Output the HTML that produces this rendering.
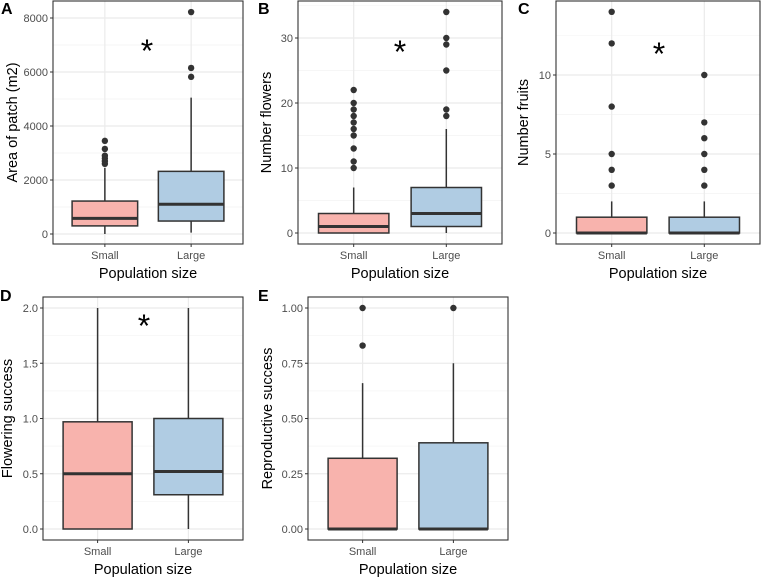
<!DOCTYPE html>
<html><head><meta charset="utf-8"><style>
body{margin:0;background:#fff;width:761px;height:577px;overflow:hidden}
svg{font-family:"Liberation Sans",sans-serif}
</style></head><body>
<svg id="c" width="761" height="577"></svg>
<script>
const categories=["Small","Large"];
// panel A: area of patch
const aStats=[[0,300,580,1220,2450],[50,480,1100,2320,5050]];
const aOut=[[2600,2700,2800,2900,3150,3450],[5820,6150,8220]];
const aTicks=[0,2000,4000,6000,8000];
// panel B: number flowers
const bStats=[[0,0,1,3,7],[0,1,3,7,16]];
const bOut=[[10,11,13,15,16,17,18,19,20,22],[18,19,25,29,30,34]];
const bTicks=[0,10,20,30];
// panel C: number fruits
const cStats=[[0,0,0,1,2],[0,0,0,1,2]];
const cOut=[[3,4,5,8,12,14],[3,4,5,6,7,10]];
const cTicks=[0,5,10];
// panel D: flowering success
const dStats=[[0,0,0.5,0.97,2],[0,0.31,0.52,1,2]];
const dOut=[[],[]];
const dTicks=[0,0.5,1,1.5,2];
const dLabels=["0.0","0.5","1.0","1.5","2.0"];
// panel E: reproductive success
const eStats=[[0,0,0,0.32,0.66],[0,0,0,0.39,0.75]];
const eOut=[[0.83,1],[1]];
const eTicks=[0,0.25,0.5,0.75,1];
const eLabels=["0.00","0.25","0.50","0.75","1.00"];

const NS="http://www.w3.org/2000/svg",svg=document.getElementById('c');
function el(t,a,p){const e=document.createElementNS(NS,t);for(const k in a)e.setAttribute(k,a[k]);(p||svg).appendChild(e);return e;}
const fills=["#F8B3AD","#B0CCE3"];
function panel(o){
  const g=el('g',{});
  
  
  const y=v=>o.y0+(v-o.t0)*(o.y1-o.y0)/(o.t1-o.t0);
  const L=o.left,R=o.left+o.w,T=o.top,B=o.bottom;
  el('rect',{x:L,y:T,width:o.w,height:B-T,fill:'#fff'},g);
  for(let i=0;i<o.ticks.length;i++){
    const step=o.ticks[1]-o.ticks[0];
    for(const m of [o.ticks[i]-step/2,o.ticks[i]+step/2]){
      const yy=y(m); if(yy>T&&yy<B) el('line',{x1:L,x2:R,y1:yy,y2:yy,stroke:'#f4f4f4','stroke-width':0.6},g);
    }
  }
  o.ticks.forEach((t,i)=>{const yy=y(t);
    const gl=el('line',{x1:L,x2:R,y1:yy,y2:yy,stroke:'#ebebeb','stroke-width':1.2},g);
    
    el('line',{x1:L-3,x2:L,y1:yy,y2:yy,stroke:'#333','stroke-width':1},g);
    const tx=el('text',{x:L-5,y:yy+4,'text-anchor':'end','font-size':11,fill:'#4d4d4d'},g);
    tx.textContent=o.labels?o.labels[i]:t;
    
    
  });
  const cx=[L+o.w*0.273,L+o.w*0.727],bw=o.w*0.345;
  cx.forEach(x=>el('line',{x1:x,x2:x,y1:T,y2:B,stroke:'#ebebeb','stroke-width':1.2},g));
  categories.forEach((c,i)=>{
    const s=o.stats[i],x=cx[i];
    const bg=el('g',{},g);
    
    
    el('line',{x1:x,x2:x,y1:y(s[0]),y2:y(s[4]),stroke:'#333','stroke-width':1.5},bg);
    el('rect',{x:x-bw/2,y:y(s[3]),width:bw,height:y(s[1])-y(s[3]),fill:fills[i],stroke:'#333','stroke-width':1.5},bg);
    el('line',{x1:x-bw/2,x2:x+bw/2,y1:y(s[2]),y2:y(s[2]),stroke:'#333','stroke-width':3},bg);
    o.out[i].forEach(v=>{const p=el('circle',{cx:x,cy:y(v),r:3.2,fill:'#333'},bg);
      });
    el('line',{x1:x,x2:x,y1:B,y2:B+3,stroke:'#333'},g);
    const t=el('text',{x:x,y:B+15,'text-anchor':'middle','font-size':11,fill:'#4d4d4d'},g);
    t.textContent=c;
    
  });
  el('rect',{x:L,y:T,width:o.w,height:B-T,fill:'none',stroke:'#333','stroke-width':1.1},g);
  const xt=el('text',{x:(L+R)/2,y:B+34,'text-anchor':'middle','font-size':14.5,fill:'#000'},g);
  xt.textContent='Population size';
  
  const ym=(T+B)/2;
  const yt=el('text',{x:o.ytx,y:ym,'text-anchor':'middle','font-size':14.5,fill:'#000',transform:`rotate(-90 ${o.ytx} ${ym})`},g);
  yt.textContent=o.ytitle;
  
  const pl=el('text',{x:o.lx,y:o.ly,'font-size':16,'font-weight':'bold',fill:'#000'},g);
  pl.textContent=o.id;
  
  if(o.star){const st=el('text',{x:o.star[0],y:o.star[1],'text-anchor':'middle','font-size':32,fill:'#000'},g);
    st.textContent='*';
    }
}
panel({id:'A',left:53,w:190,top:1,bottom:244,t0:0,t1:8000,y0:234,y1:18,ticks:aTicks,stats:aStats,out:aOut,ytitle:'Area of patch (m2)',ytx:17,lx:1,ly:14,star:[147,62]});
panel({id:'B',left:298,w:204,top:1,bottom:244,t0:0,t1:30,y0:233,y1:38,ticks:bTicks,stats:bStats,out:bOut,ytitle:'Number flowers',ytx:271,lx:258,ly:14,star:[400,63]});
panel({id:'C',left:556,w:204,top:1,bottom:244,t0:0,t1:10,y0:233,y1:75,ticks:cTicks,stats:cStats,out:cOut,ytitle:'Number fruits',ytx:528,lx:518,ly:14,star:[659,65]});
panel({id:'D',left:43,w:200,top:297,bottom:540,t0:0,t1:2,y0:529,y1:308,ticks:dTicks,labels:dLabels,stats:dStats,out:dOut,ytitle:'Flowering success',ytx:12,lx:0,ly:301,star:[144,337]});
panel({id:'E',left:308,w:200,top:297,bottom:540,t0:0,t1:1,y0:529,y1:308,ticks:eTicks,labels:eLabels,stats:eStats,out:eOut,ytitle:'Reproductive success',ytx:272,lx:258,ly:301});
</script>
</body></html>
